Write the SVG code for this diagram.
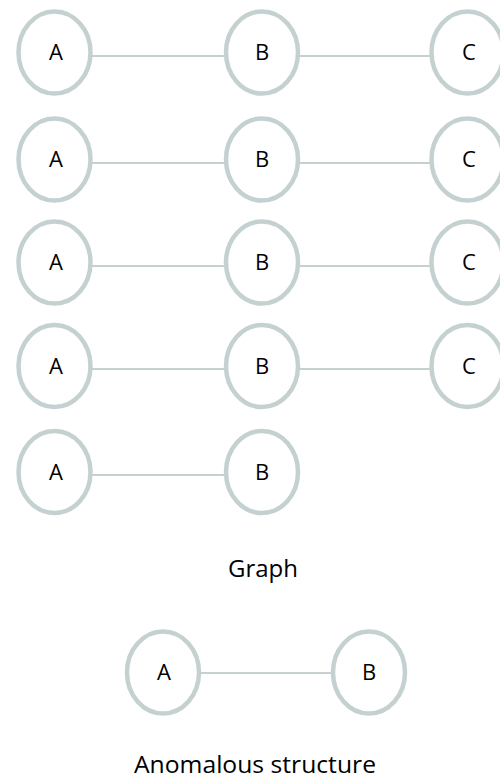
<svg xmlns="http://www.w3.org/2000/svg" width="500" height="780" viewBox="0 0 500 780">
<style>
.n ellipse{fill:#fff;stroke:#c5d1d1;stroke-width:4.5}
.n text{font-family:"Open Sans","Liberation Sans",sans-serif;font-size:22px;fill:#000;text-anchor:middle}
.e line{stroke:#c5d1d1;stroke-width:2}
.cap{font-family:"Open Sans","Liberation Sans",sans-serif;font-size:24px;fill:#000;text-anchor:middle}
</style>
<rect width="500" height="780" fill="#fff"/>
<g id="edges" class="e">
<line x1="90" y1="56" x2="226" y2="56"/><line x1="298" y1="56" x2="432" y2="56"/>
<line x1="90" y1="163" x2="226" y2="163"/><line x1="298" y1="163" x2="432" y2="163"/>
<line x1="90" y1="266" x2="226" y2="266"/><line x1="298" y1="266" x2="432" y2="266"/>
<line x1="90" y1="369" x2="226" y2="369"/><line x1="298" y1="369" x2="432" y2="369"/>
<line x1="90" y1="475" x2="226" y2="475"/>
<line x1="199" y1="673" x2="333" y2="673"/>
</g>
<g id="r1A" class="n"><ellipse cx="54.5" cy="52.5" rx="36" ry="41"/><text x="56" y="60">A</text></g>
<g id="r1B" class="n"><ellipse cx="262" cy="52.5" rx="36" ry="41"/><text x="262" y="60">B</text></g>
<g id="r1C" class="n"><ellipse cx="467.5" cy="52.5" rx="36" ry="41"/><text x="469" y="60">C</text></g>
<g id="r2A" class="n"><ellipse cx="54.5" cy="159.5" rx="36" ry="41"/><text x="56" y="167">A</text></g>
<g id="r2B" class="n"><ellipse cx="262" cy="159.5" rx="36" ry="41"/><text x="262" y="167">B</text></g>
<g id="r2C" class="n"><ellipse cx="467.5" cy="159.5" rx="36" ry="41"/><text x="469" y="167">C</text></g>
<g id="r3A" class="n"><ellipse cx="54.5" cy="262.5" rx="36" ry="41"/><text x="56" y="270">A</text></g>
<g id="r3B" class="n"><ellipse cx="262" cy="262.5" rx="36" ry="41"/><text x="262" y="270">B</text></g>
<g id="r3C" class="n"><ellipse cx="467.5" cy="262.5" rx="36" ry="41"/><text x="469" y="270">C</text></g>
<g id="r4A" class="n"><ellipse cx="54.5" cy="366" rx="36" ry="41"/><text x="56" y="373.5">A</text></g>
<g id="r4B" class="n"><ellipse cx="262" cy="366" rx="36" ry="41"/><text x="262" y="373.5">B</text></g>
<g id="r4C" class="n"><ellipse cx="467.5" cy="366" rx="36" ry="41"/><text x="469" y="373.5">C</text></g>
<g id="r5A" class="n"><ellipse cx="54.5" cy="472" rx="36" ry="41"/><text x="56" y="479.5">A</text></g>
<g id="r5B" class="n"><ellipse cx="262" cy="472" rx="36" ry="41"/><text x="262" y="479.5">B</text></g>
<text class="cap" x="263" y="577">Graph</text>
<g id="anA" class="n"><ellipse cx="163" cy="672.5" rx="36" ry="41"/><text x="164" y="680">A</text></g>
<g id="anB" class="n"><ellipse cx="369" cy="672.5" rx="36" ry="41"/><text x="369" y="680">B</text></g>
<text class="cap" x="255" y="773" textLength="242" lengthAdjust="spacingAndGlyphs">Anomalous structure</text>
</svg>
